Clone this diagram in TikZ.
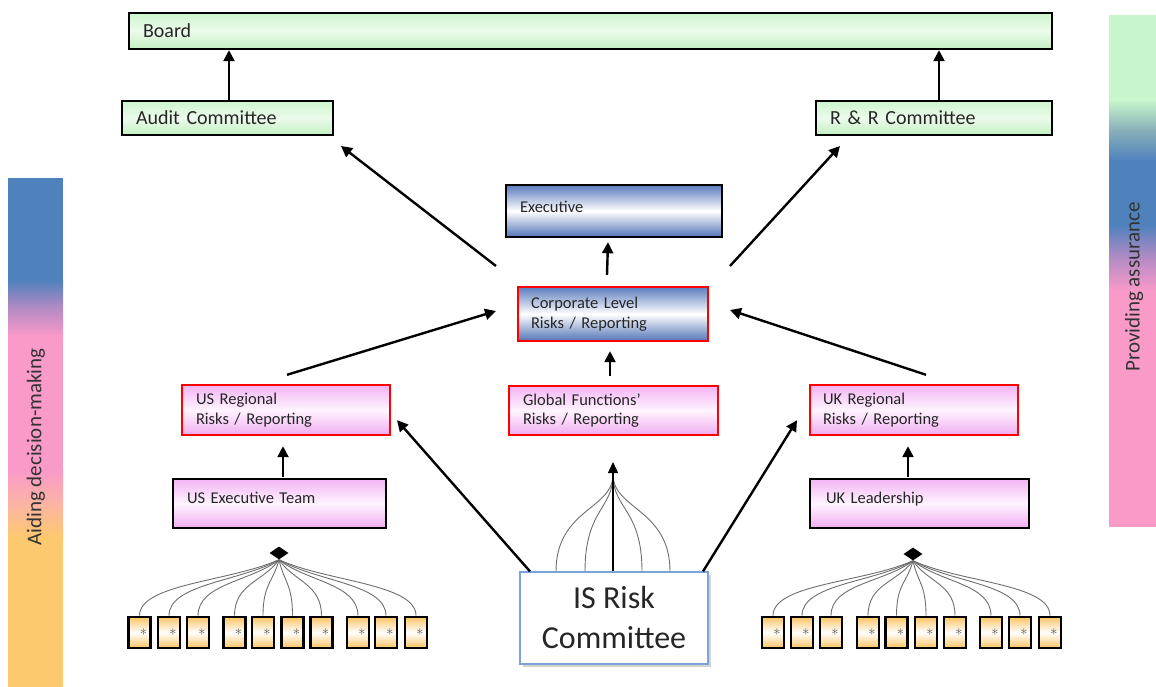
\documentclass[tikz,border=0pt]{standalone}
\usepackage{fontspec}
\setmainfont{Carlito}
\usetikzlibrary{arrows.meta,shapes.geometric,shadows}
\definecolor{barblue}{HTML}{4F81BD}
\definecolor{barpink}{HTML}{F99AC9}
\definecolor{barorange}{HTML}{FDC96E}
\definecolor{bargreen}{HTML}{C8F5CC}
\definecolor{barpurple}{HTML}{B48BC4}
\definecolor{barpeach}{HTML}{FCB4A4}
\definecolor{barteal}{HTML}{88AFB8}
\definecolor{txt}{HTML}{262626}
\definecolor{isblue}{HTML}{7BA3D6}
\begin{document}
\begin{tikzpicture}[x=1pt,y=-1pt,
  every node/.style={text=txt},
  arr/.style={line width=2.4pt,-{Triangle[length=11pt,width=11pt]}},
  big/.style={font=\fontsize{20}{24}\selectfont},
  mid/.style={font=\fontsize{16.5}{19.5}\selectfont},
  gbox/.style={draw=black,line width=2.4pt,top color={rgb,255:red,205;green,245;blue,205},bottom color={rgb,255:red,194;green,240;blue,194},middle color={rgb,255:red,236;green,251;blue,236},inner xsep=14pt,inner ysep=0pt,align=left,big},
  bbox/.style={line width=2.4pt,top color={rgb,255:red,92;green,124;blue,190},bottom color={rgb,255:red,82;green,116;blue,182},middle color=white,inner xsep=14pt,inner ysep=0pt,align=left,mid},
  pbox/.style={line width=2.4pt,top color={rgb,255:red,243;green,180;blue,243},bottom color={rgb,255:red,240;green,172;blue,240},middle color={rgb,255:red,255;green,244;blue,255},inner xsep=14pt,inner ysep=0pt,align=left,mid},
  smallbox/.style={draw=black,line width=2.6pt,top color={rgb,255:red,253;green,196;blue,100},bottom color={rgb,255:red,253;green,196;blue,100},middle color=white,minimum width=22pt,minimum height=31pt,inner sep=0pt,text width=15pt,align=right,text={rgb,255:red,85;green,85;blue,85},font=\fontsize{15}{15}\selectfont},
  fan/.style={draw={rgb,255:red,110;green,110;blue,110},line width=0.9pt},
  hub/.style={diamond,fill=black,inner sep=0pt,minimum width=19pt,minimum height=13pt},
  sidetxt/.style={rotate=90,font=\fontsize{21}{24}\selectfont,text={rgb,255:red,51;green,51;blue,51}}
]
\useasboundingbox (0,0) rectangle (1156,687);
% side bars
\fill[barblue] (8,178) rectangle (63,281);
\shade[top color=barblue,bottom color=barpink,middle color=barpurple] (8,280) rectangle (63,336);
\fill[barpink] (8,335) rectangle (63,471);
\shade[top color=barpink,bottom color=barorange,middle color=barpeach] (8,470) rectangle (63,538);
\fill[barorange] (8,537) rectangle (63,687);
\node[sidetxt] (aid) at (36,447) {Aiding decision-making};
\fill[bargreen] (1109,15) rectangle (1156,101);
\shade[top color=bargreen,bottom color=barblue,middle color=barteal] (1109,100) rectangle (1156,161);
\fill[barblue] (1109,160) rectangle (1156,226);
\shade[top color=barblue,bottom color=barpink,middle color=barpurple] (1109,225) rectangle (1156,291);
\fill[barpink] (1109,290) rectangle (1156,527);
\node[sidetxt] (prov) at (1134,287) {Providing assurance};
% top level
\node[gbox,minimum height=36pt,text width=895pt] (board) at (590.5,31) {Board};
\node[gbox,minimum height=34pt,text width=183pt] (audit) at (227.5,118) {Audit Committee};
\node[gbox,minimum height=34pt,text width=208pt] (rr) at (934,118) {R \& R Committee};
% executive / corporate
\node[bbox,draw=black,minimum height=52pt,text width=188pt,text depth=8pt] (exec) at (614,211) {Executive};
\node[bbox,draw=red,minimum height=54pt,text width=164pt,inner xsep=13pt] (corp) at (613,314) {Corporate Level\\Risks / Reporting};
% regional
\node[pbox,draw=red,minimum height=50pt,text width=180pt] (usreg) at (286,410) {US Regional\\Risks / Reporting};
\node[pbox,draw=red,minimum height=49pt,text width=181pt] (glob) at (613.5,410.5) {Global Functions’\\Risks / Reporting};
\node[pbox,draw=red,minimum height=50pt,text width=182pt,inner xsep=13pt] (ukreg) at (914,410) {UK Regional\\Risks / Reporting};
\node[pbox,draw=black,minimum height=49pt,text width=185pt,text depth=12pt] (usex) at (279.5,503.5) {US Executive Team};
\node[pbox,draw=black,minimum height=49pt,text width=187pt,inner xsep=16pt,text depth=12pt] (uklead) at (919.5,503.5) {UK Leadership};
% IS risk committee
\node[draw=isblue,line width=1.2pt,fill=white,minimum width=188pt,minimum height=92pt,align=center,font=\fontsize{32}{40}\selectfont,drop shadow={shadow xshift=2.5pt,shadow yshift=-2.5pt,opacity=0.35}] (isr) at (614,618) {IS Risk\\Committee};
% free arrow ends
\coordinate (c1) at (496,266);
\coordinate (c1e) at (341,146);
\coordinate (c2) at (730,266);
\coordinate (c2e) at (840,146);
\coordinate (c3e) at (496,311);
\coordinate (c4e) at (730,310);
\coordinate (c5e) at (613,462);
% arrows
\draw[arr] ([xshift=1.5pt]audit.north) -- ([xshift=1.5pt]audit.north |- board.south);
\draw[arr] ([xshift=5pt]rr.north) -- ([xshift=5pt]rr.north |- board.south);
\draw[arr] (c1) -- (c1e);
\draw[arr] (c2) -- (c2e);
\draw[arr] ([xshift=-6pt,yshift=11pt]corp.north) -- ([xshift=-6pt,yshift=-4pt]exec.south);
\draw[arr] ([xshift=1pt,yshift=9pt]usreg.north) -- (c3e);
\draw[arr] ([xshift=12pt,yshift=9pt]ukreg.north) -- (c4e);
\draw[arr] ([xshift=-3.5pt,yshift=9pt]glob.north) -- ([xshift=-3pt,yshift=-9pt]corp.south);
\draw[arr] ([xshift=3.5pt,yshift=1pt]usex.north) -- ([xshift=-3pt,yshift=-10pt]usreg.south);
\draw[arr] ([xshift=-11.5pt,yshift=1pt]uklead.north) -- ([xshift=-6pt,yshift=-10pt]ukreg.south);
\draw[arr] ([xshift=-84pt]isr.north) -- ([xshift=111pt,yshift=16pt]usreg.south);
\draw[arr] ([xshift=89pt]isr.north) -- ([xshift=-117pt,yshift=16pt]ukreg.south);
% fan into global functions
\foreach \dx in {-58,-29,28,56} {
  \draw[fan] ([xshift=\dx pt]isr.north) .. controls +(0,-62) and +(0,34) .. ([yshift=-13pt]c5e);
}
\draw[line width=1.2pt,-{Triangle[length=11pt,width=10pt]}] ([xshift=-1pt]isr.north) -- (c5e);
% hubs and small boxes
\node[hub] (dl) at (279,553) {};
\node[hub] (dr) at (913,554) {};
\foreach \i/\x in {1/139.5,2/169,3/198,4/234.5,5/263,6/292.5,7/321.5,8/358,9/386,10/416} {
  \node[smallbox] (l\i) at (\x,632.5) {$\ast$};
  \draw[fan] (l\i.north) .. controls +(0,-32) and +({(\x-279)*0.35},22) .. (dl.south);
}
\foreach \i/\x in {1/773,2/802,3/831,4/868,5/896.5,6/926,7/955,8/991,9/1020,10/1050} {
  \node[smallbox] (r\i) at (\x,632.5) {$\ast$};
  \draw[fan] (r\i.north) .. controls +(0,-32) and +({(\x-913)*0.35},22) .. (dr.south);
}
\end{tikzpicture}
\end{document}
